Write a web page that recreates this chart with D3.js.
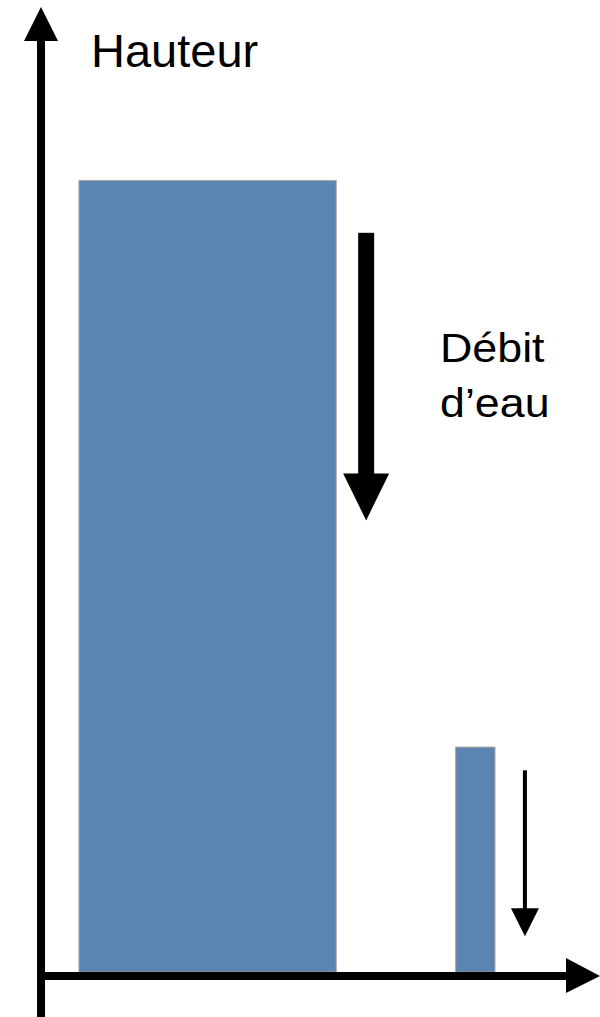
<!DOCTYPE html>
<html>
<head>
<meta charset="utf-8">
<script src="https://cdn.jsdelivr.net/npm/d3@7"></script>
<style>
  html, body { margin: 0; padding: 0; background: #fff; }
  svg { display: block; }
  text { font-family: "Liberation Sans", Arial, sans-serif; fill: #000; }
</style>
</head>
<body>
<div></div>
<script>
// reservoirs: hauteur d'eau, largeur, debit (arrow extent)
const categories = ["Grand réservoir", "Petit réservoir"];
const debutX = [0.68, 7.42];
const largeur = [4.6, 0.7];
const hauteur = [8.2, 2.33];
const debitHaut = [7.66, 2.09];
const debitBas = [4.68, 0.37];
const axisLabelY = "Hauteur";
const flowLabel = ["Débit", "d’eau"];

const width = 600;
const height = 1017;

const xScale = d3.scaleLinear().domain([0, 10]).range([41, 600]);
const yScale = d3.scaleLinear().domain([0, 10]).range([972, 7]);

const svg = d3.select('div').append('svg').attr("width", width).attr("height", height);

const data = categories.map((c, i) => ({
    name: c, x0: debutX[i], w: largeur[i], h: hauteur[i], top: debitHaut[i], bottom: debitBas[i]
}));

svg.selectAll('.bar')
    .data(data)
    .enter()
    .append('rect')
    .attr("class", "bar")
    .attr('x', d => xScale(d.x0))
    .attr('width', d => xScale(d.x0 + d.w) - xScale(d.x0))
    .attr('y', d => yScale(d.h))
    .attr('height', d => yScale(0) - yScale(d.h))
    .attr('fill', '#5a84b1')
    .attr('stroke', '#9a9a9a')
    .attr('stroke-width', 1);

// flow arrows
const arrowStyle = [
    { dx: 30, shaft: 16, headW: 46, headL: 47 },
    { dx: 30, shaft: 4, headW: 28, headL: 28 }
];
data.forEach((d, i) => {
    const s = arrowStyle[i];
    const cx = xScale(d.x0 + d.w) + s.dx;
    const y1 = yScale(d.top);
    const y2 = yScale(d.bottom);
    svg.append('rect')
        .attr('x', cx - s.shaft / 2).attr('y', y1)
        .attr('width', s.shaft).attr('height', y2 - s.headL - y1 + 1)
        .attr('fill', '#000');
    svg.append('path')
        .attr('d', `M${cx - s.headW / 2},${y2 - s.headL}L${cx + s.headW / 2},${y2 - s.headL}L${cx},${y2}Z`)
        .attr('fill', '#000');
});

// axes with arrow heads
const x0 = xScale(0);
const y0 = yScale(0) + 4;
svg.append('line')
    .attr('x1', x0).attr('x2', x0)
    .attr('y1', height).attr('y2', yScale(10) + 30)
    .attr('stroke', '#000').attr('stroke-width', 8);
svg.append('path')
    .attr('d', `M${x0 - 17},${yScale(10) + 34}L${x0 + 17},${yScale(10) + 34}L${x0},${yScale(10)}Z`)
    .attr('fill', '#000');
svg.append('line')
    .attr('x1', x0 - 4).attr('x2', xScale(10) - 30)
    .attr('y1', y0).attr('y2', y0)
    .attr('stroke', '#000').attr('stroke-width', 8);
svg.append('path')
    .attr('d', `M${xScale(10) - 34},${y0 - 18}L${xScale(10) - 34},${y0 + 17}L${xScale(10)},${y0}Z`)
    .attr('fill', '#000');

svg.append('text')
    .attr('x', 91).attr('y', 67)
    .attr('font-size', 47)
    .text(axisLabelY);

svg.append('g')
    .attr('transform', 'translate(440,0) scale(1.12,1)')
    .selectAll('text')
    .data(flowLabel)
    .enter()
    .append('text')
    .attr('x', 0)
    .attr('y', (d, i) => 362 + i * 55)
    .attr('font-size', 40)
    .text(d => d);
</script>
</body>
</html>
